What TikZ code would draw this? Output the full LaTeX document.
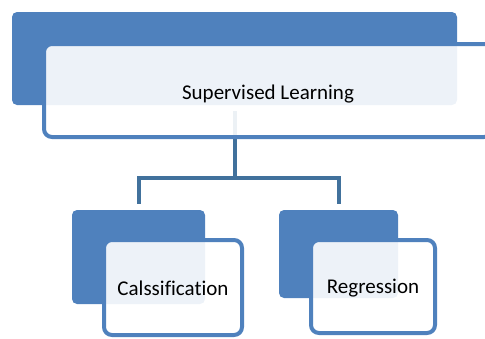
\documentclass[tikz,border=0pt]{standalone}
\usepackage{fontspec}
\setmainfont{Carlito}[Ligatures=NoCommon]
\usetikzlibrary{positioning, calc}
\definecolor{boxblue}{HTML}{4F81BD}
\definecolor{linkblue}{HTML}{41719C}

\begin{document}
\begin{tikzpicture}[x=1pt, y=-1pt,
  back/.style={fill=boxblue, rounded corners=5pt, inner sep=0pt},
  front/.style={draw=boxblue, line width=4pt, rounded corners=8pt, inner sep=0pt,
    fill=white, fill opacity=0.9, draw opacity=1, text opacity=1,
    font=\fontsize{21}{25}\selectfont},
  link/.style={draw=linkblue, line width=4pt}]

\useasboundingbox (0,0) rectangle (485,338);
\clip (0,0) rectangle (485,338);

% back blocks
\node (topback) [back, minimum width=445pt, minimum height=93pt] at (234.5,58.5) {};
\node (clsback) [back, minimum width=133pt, minimum height=94pt] at (138.5,257) {};
\node (regback) [back, minimum width=119pt, minimum height=88pt] at (338.5,254) {};

% tree links
\coordinate (fork) at ([yshift=-73pt]topback.south);
\draw[link] ([yshift=-6pt]topback.south) -- (fork);
\draw[link] ([yshift=6pt]clsback.north) |- (fork) -| ([yshift=6pt]regback.north);

% front blocks
\node (topfront) [front, minimum width=448pt, minimum height=93pt] at (268,90.5) {\raisebox{-8.5pt}[0pt][0pt]{Supervised Learning}};
\node (clsfront) [front, minimum width=138pt, minimum height=95pt] at (173,287.5) {\raisebox{-7.5pt}[0pt][0pt]{Calssification}};
\node (regfront) [front, minimum width=124pt, minimum height=93pt] at (373,286.5) {\raisebox{-6.5pt}[0pt][0pt]{Regression}};
\end{tikzpicture}
\end{document}
